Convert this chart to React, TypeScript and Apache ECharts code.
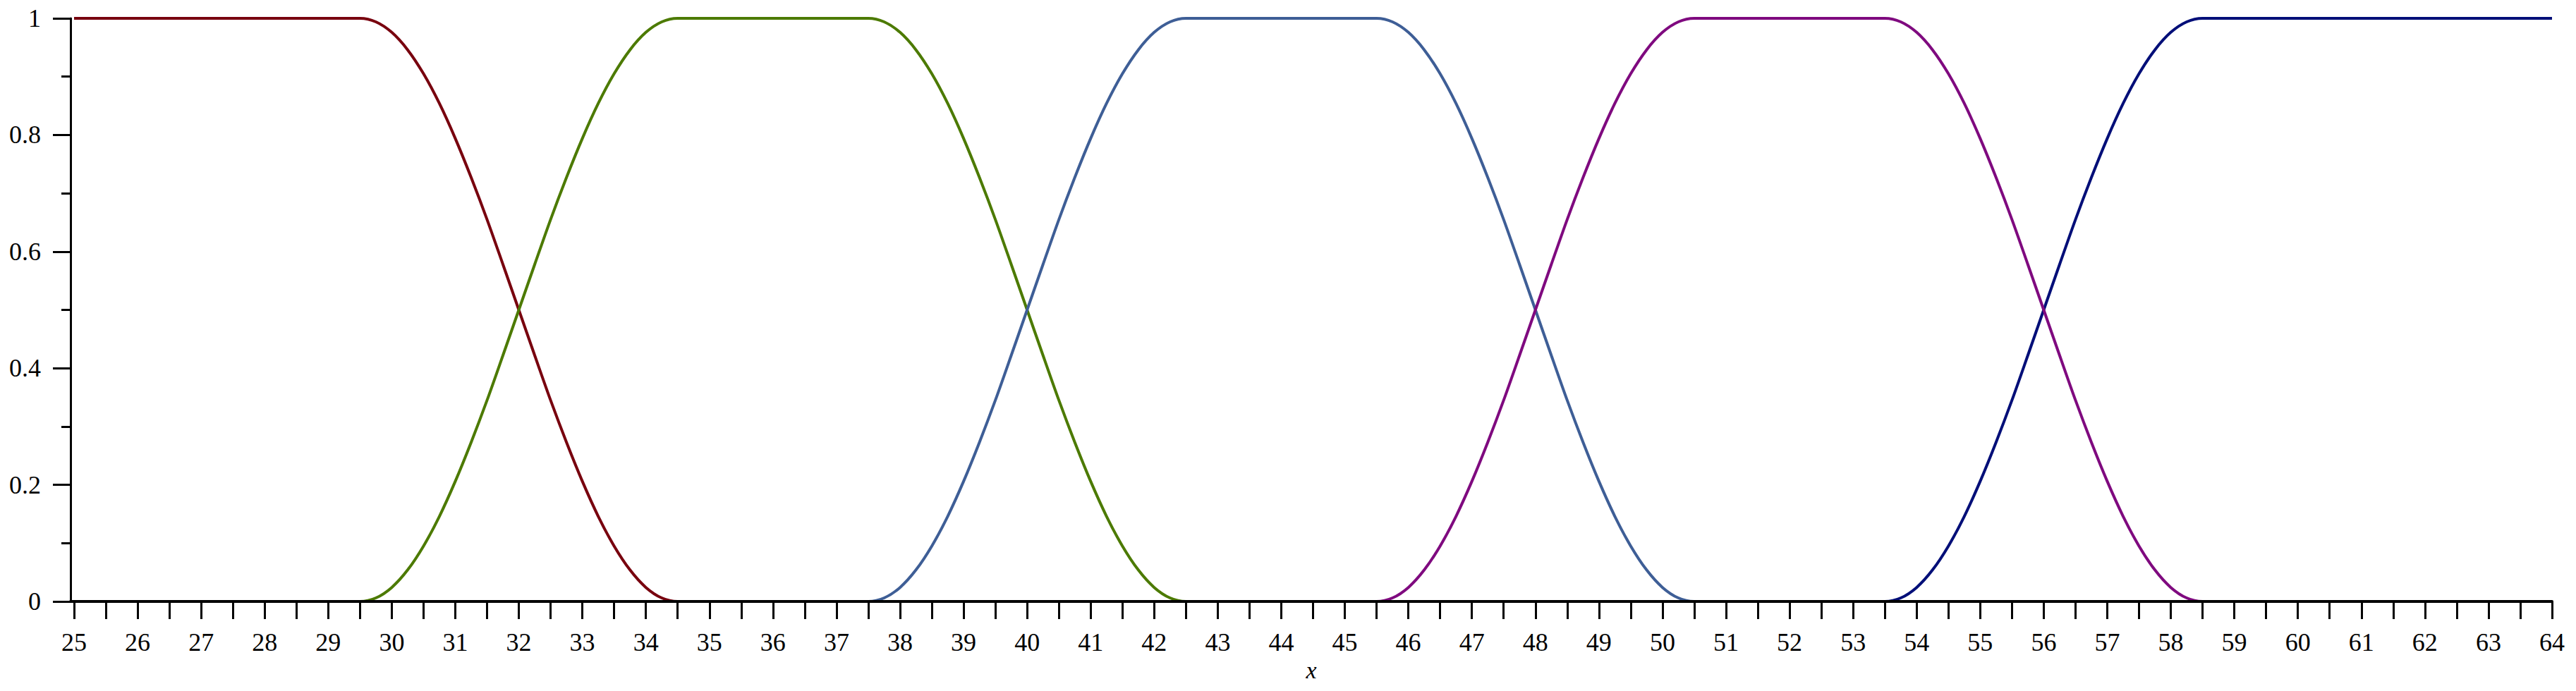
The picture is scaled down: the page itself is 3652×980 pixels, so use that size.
import React, { useEffect, useRef } from "react";
import * as echarts from "echarts";

// x range and ticks
const xStart = 25;
const xEnd = 64;
const xLabelValues = [25,26,27,28,29,30,31,32,33,34,35,36,37,38,39,40,41,42,43,44,45,46,47,48,49,50,51,52,53,54,55,56,57,58,59,60,61,62,63,64];
const xTickValues = xLabelValues.flatMap((v) => (v < xEnd ? [v, v + 0.5] : [v]));

// start of each transition (each 5 units wide)
const transitionStarts = [29.5, 37.5, 45.5, 53.5];
const transitionWidth = 5;
const fallProfile = [1, 0.994, 0.976, 0.946, 0.905, 0.854, 0.794, 0.727, 0.655, 0.578, 0.5, 0.422, 0.345, 0.273, 0.206, 0.146, 0.095, 0.054, 0.024, 0.006, 0];

const seriesNames = ["A1", "A2", "A3", "A4", "A5"];
const seriesColors = ["#78000E", "#4C7A00", "#3E5E96", "#7F0A7F", "#000E78"];
// draw order (purple last, as in the picture)
const drawOrder = [0, 4, 1, 2, 3];

function buildSeriesData(k: number): number[][] {
  const pts: number[][] = [];
  let level = k === 0 ? 1 : 0;
  pts.push([xStart, level]);
  transitionStarts.forEach((s, j) => {
    const step = transitionWidth / (fallProfile.length - 1);
    if (j === k) {
      fallProfile.forEach((v, i) => pts.push([s + i * step, v]));
      level = 0;
    } else if (j === k - 1) {
      fallProfile.forEach((v, i) => pts.push([s + i * step, 1 - v]));
      level = 1;
    }
  });
  pts.push([xEnd, level]);
  return pts;
}

const FONT = "Liberation Serif";

export default function App() {
  const ref = useRef<HTMLDivElement>(null);
  useEffect(() => {
    if (!ref.current) return;
    const chart = echarts.init(ref.current, undefined, { renderer: "svg" });
    const pxLeft = 100;
    const pxRight = 3618;
    const pxPerUnit = (pxRight - 105) / (xEnd - xStart);
    const xMin = xStart - (105 - pxLeft) / pxPerUnit;
    chart.setOption({
      animation: false,
      backgroundColor: "#ffffff",
      grid: { left: pxLeft, right: 3652 - pxRight, top: 26, bottom: 980 - 853, containLabel: false },
      xAxis: {
        type: "value",
        min: xMin,
        max: xEnd,
        z: 10,
        name: "x",
        nameLocation: "middle",
        nameGap: 80,
        nameTextStyle: { fontFamily: FONT, fontStyle: "italic", fontSize: 34, color: "#000" },
        axisLine: { show: true, onZero: false, lineStyle: { color: "#000", width: 4 } },
        axisTick: { show: true, length: 25, inside: false, customValues: xTickValues, lineStyle: { color: "#000", width: 3 } },
        axisLabel: { show: true, margin: 40, customValues: xLabelValues, fontFamily: FONT, fontSize: 36, color: "#000", formatter: (v: number) => String(v) },
        splitLine: { show: false },
      },
      yAxis: {
        type: "value",
        min: 0,
        max: 1,
        interval: 0.2,
        z: 10,
        axisLine: { show: true, onZero: false, lineStyle: { color: "#000", width: 3 } },
        axisTick: { show: true, length: 25, lineStyle: { color: "#000", width: 3 } },
        minorTick: { show: true, splitNumber: 2, length: 13, lineStyle: { color: "#000", width: 3 } },
        axisLabel: { show: true, margin: 42, fontFamily: FONT, fontSize: 36, color: "#000" },
        splitLine: { show: false },
        minorSplitLine: { show: false },
      },
      series: drawOrder.map((k) => ({
        type: "line",
        name: seriesNames[k],
        data: buildSeriesData(k),
        showSymbol: false,
        symbol: "none",
        smooth: 0.3,
        lineStyle: { color: seriesColors[k], width: 4 },
        itemStyle: { color: seriesColors[k] },
        z: 2,
      })),
    });
    return () => chart.dispose();
  }, []);
  return <div ref={ref} style={{ position: "absolute", left: 0, top: 0, width: 3652, height: 980 }} />;
}
